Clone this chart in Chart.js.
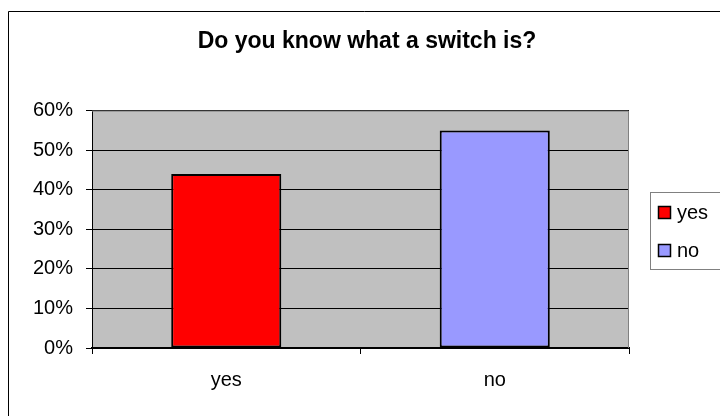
<!DOCTYPE html>
<html>
<head>
<meta charset="utf-8">
<script src="https://cdn.jsdelivr.net/npm/chart.js@4"></script>
<style>
  html, body { margin: 0; padding: 0; background: #fff; overflow: hidden; }
  #wrap { position: relative; width: 720px; height: 416px; }
</style>
</head>
<body>
<div id="wrap"><canvas id="chart"></canvas></div>
<script>
// Data
const categories = ['yes', 'no'];
const answerShare = [0.44, 0.55];
const barColors = ['#FF0000', '#9999FF'];
const yTicks = [0, 0.1, 0.2, 0.3, 0.4, 0.5, 0.6];

const FONT = "'Liberation Sans', Arial, sans-serif";

// Excel-like frame, gray plot area and boxed legend
const excelFrame = {
  id: 'excelFrame',
  beforeDraw(chart) {
    const { ctx, chartArea: a } = chart;
    ctx.save();
    ctx.fillStyle = '#fff';
    ctx.fillRect(0, 0, chart.width, chart.height);
    ctx.fillStyle = '#C0C0C0';
    ctx.fillRect(a.left, a.top, a.right - a.left, a.bottom - a.top);
    // outer chart border (right and bottom edges fall outside the picture)
    ctx.strokeStyle = '#000';
    ctx.lineWidth = 1;
    ctx.beginPath();
    ctx.moveTo(8.5, chart.height + 2);
    ctx.lineTo(8.5, 11.5);
    ctx.lineTo(chart.width + 2, 11.5);
    ctx.stroke();
    ctx.restore();
  },
  beforeDatasetsDraw(chart) {
    const { ctx, chartArea: a } = chart;
    ctx.save();
    ctx.strokeStyle = '#808080';
    ctx.lineWidth = 1;
    ctx.beginPath();
    ctx.moveTo(a.left, a.top + 0.5);
    ctx.lineTo(a.right - 0.5, a.top + 0.5);
    ctx.lineTo(a.right - 0.5, a.bottom);
    ctx.stroke();
    ctx.restore();
  },
  afterDraw(chart) {
    const { ctx } = chart;
    ctx.save();
    // legend box
    ctx.strokeStyle = '#808080';
    ctx.lineWidth = 1;
    ctx.strokeRect(650.5, 192.5, 100, 77);
    ctx.font = '20px ' + FONT;
    ctx.textBaseline = 'middle';
    ctx.textAlign = 'left';
    categories.forEach((c, i) => {
      const cy = 212 + i * 38;
      ctx.fillStyle = barColors[i];
      ctx.fillRect(658, cy - 6, 13, 13);
      ctx.strokeStyle = '#000';
      ctx.lineWidth = 1.5;
      ctx.strokeRect(658.5, cy - 5.5, 12, 12);
      ctx.fillStyle = '#000';
      ctx.fillText(c, 677, cy + 1);
    });
    ctx.restore();
  }
};

new Chart(document.getElementById('chart'), {
  type: 'bar',
  plugins: [excelFrame],
  data: {
    labels: categories,
    datasets: [{
      data: answerShare,
      backgroundColor: barColors,
      borderColor: '#000',
      borderWidth: 2,
      borderSkipped: false,
      barPercentage: 0.41,
      categoryPercentage: 1
    }]
  },
  options: {
    responsive: true,
    maintainAspectRatio: false,
    animation: false,
    devicePixelRatio: 1,
    layout: { padding: { left: 14, right: 0, top: 28, bottom: 0 } },
    plugins: {
      legend: { display: false },
      tooltip: { enabled: false },
      title: {
        display: true,
        text: 'Do you know what a switch is?',
        color: '#000',
        font: { family: FONT, size: 23, weight: 'bold' },
        padding: { top: 0, bottom: 55 }
      }
    },
    scales: {
      x: {
        grid: {
          display: true,
          drawOnChartArea: false,
          offset: true,
          color: '#000',
          tickLength: 6
        },
        border: { color: '#000', width: 2 },
        ticks: {
          color: '#000',
          font: { family: FONT, size: 20 },
          padding: 14
        },
        afterFit(scale) { scale.height = 68; }
      },
      y: {
        min: 0,
        max: 0.6,
        afterBuildTicks(scale) {
          scale.ticks = yTicks.map(v => ({ value: v }));
        },
        grid: {
          color: '#000',
          lineWidth: 1,
          tickLength: 6
        },
        border: { color: '#000', width: 1 },
        ticks: {
          color: '#000',
          font: { family: FONT, size: 20 },
          padding: 13,
          callback: v => Math.round(v * 100) + '%'
        },
        afterFit(scale) { scale.width = 78; }
      },
      yRight: {
        position: 'right',
        display: true,
        grid: { display: false },
        border: { display: false },
        ticks: { display: false },
        afterFit(scale) { scale.width = 91; }
      }
    }
  }
});
</script>
</body>
</html>
